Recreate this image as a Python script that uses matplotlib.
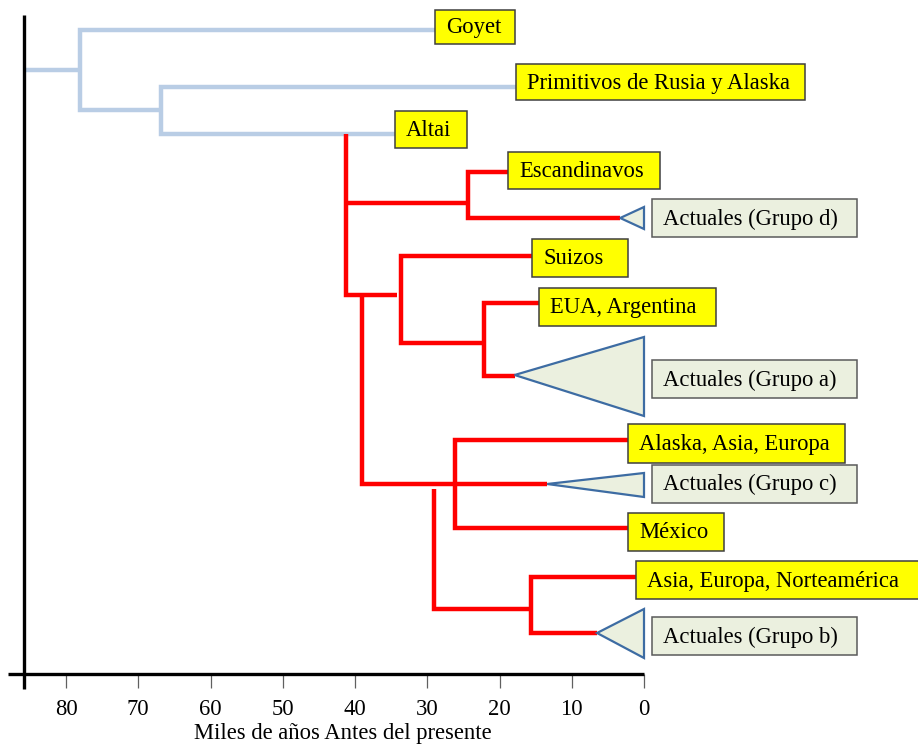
import matplotlib.pyplot as plt
from matplotlib.patches import Polygon, Rectangle

plt.rcParams['font.family'] = ['Liberation Serif', 'DejaVu Serif']

# ages in thousands of years before present, rows counted downwards from the top
# two-way splits: age of the split, row and end age of the upper / lower branch
split_age = [78.1, 66.9, 24.4, 33.6, 22.1, 26.2, 15.6]
upper_row = [30, 87, 172, 256, 303, 440, 577]
lower_row = [110, 134, 218, 343, 376, 528, 633]
upper_end = [28.9, 17.7, 18.8, 15.5, 14.5, 2.2, 1.1]
lower_end = [66.9, 34.5, 3.3, 22.1, 17.9, 2.2, 6.5]
split_lineage = ['old', 'old', 'new', 'new', 'new', 'new', 'new']

# stems leading into a split
stem_row = [70, 203]
stem_from = [85.8, 41.2]
stem_to = [78.1, 24.4]
stem_lineage = ['old', 'new']

# red backbone pieces: run down at one age, then turn towards the present
back_age = [41.2, 39.0, 29.1]
back_top = [134, 295, 489]
back_bot = [295, 484, 609]
back_end = [34.2, 13.4, 15.6]

# ancient samples (yellow boxes)
tip_names = ['Goyet', 'Primitivos de Rusia y Alaska', 'Altai', 'Escandinavos',
             'Suizos', 'EUA, Argentina', 'Alaska, Asia, Europa', 'México',
             'Asia, Europa, Norteamérica']
tip_age = [28.9, 17.7, 34.5, 18.8, 15.5, 14.5, 2.2, 2.2, 1.1]

# modern groups, collapsed into triangles
grp_names = ['Actuales (Grupo d)', 'Actuales (Grupo a)',
             'Actuales (Grupo c)', 'Actuales (Grupo b)']
grp_tip = [3.3, 17.9, 13.4, 6.5]
grp_row = [218, 375, 484, 633]
grp_top = [207, 337, 473, 609]
grp_bot = [229, 416, 497, 658]
grp_base = 0.0

ticks = [80, 70, 60, 50, 40, 30, 20, 10, 0]

# layout (pixels of the 918x744 picture)
PX = 1 / 7.225          # ka per pixel
tip_box_row = [27, 82, 129.5, 170.5, 258, 307, 443.5, 532, 580]
tip_box_w = [80, 289, 72, 152, 96, 177, 217, 96, 292]
tip_box_h = [34, 36, 37, 37, 38, 38, 39, 38, 38]
grp_box_row = [218, 379, 483.5, 636]
grp_box_left = -1.1
grp_box_w = 205
BOX_H = 38

COL = {'old': '#B9CDE5', 'new': '#FF0000'}
TRI_EDGE = '#3D6CA3'
TRI_FILL = '#EBF0DF'
LW = 3.2
FS = 16.3

fig = plt.figure(figsize=(9.18, 7.44), dpi=100)
ax = fig.add_axes([0, 70 / 744, 1, 674 / 744])
ax.set_xlim(644 * PX, (644 - 918) * PX)
ax.set_ylim(674, 0)
for s in ax.spines.values():
    s.set_visible(False)

# tree
for a, r0, r1, e0, e1, lin in zip(split_age, upper_row, lower_row,
                                  upper_end, lower_end, split_lineage):
    ax.plot([e0, a, a, e1], [r0, r0, r1, r1], color=COL[lin], lw=LW,
            solid_joinstyle='miter', solid_capstyle='butt', zorder=2)
for r, a0, a1, lin in zip(stem_row, stem_from, stem_to, stem_lineage):
    ax.plot([a0, a1], [r, r], color=COL[lin], lw=LW,
            solid_capstyle='butt', zorder=2)
for a, r0, r1, e in zip(back_age, back_top, back_bot, back_end):
    ax.plot([a, a, e], [r0, r1, r1], color=COL['new'], lw=LW,
            solid_joinstyle='miter', solid_capstyle='butt', zorder=2)

# collapsed modern groups
for t, r, top, bot in zip(grp_tip, grp_row, grp_top, grp_bot):
    ax.add_patch(Polygon([(t, r), (grp_base, top), (grp_base, bot)],
                         closed=True, facecolor=TRI_FILL, edgecolor=TRI_EDGE,
                         lw=1.6, joinstyle='miter', zorder=3))

# labels
for name, a, r, w, h in zip(tip_names, tip_age, tip_box_row, tip_box_w, tip_box_h):
    ax.add_patch(Rectangle((a, r - h / 2), -w * PX, h, facecolor='#FFFF00',
                           edgecolor='#3F3F3F', lw=1.1, zorder=4, clip_on=False))
    ax.text(a - 11 * PX, r + 1, name, ha='left', va='center', fontsize=FS,
            color='black', zorder=5)
for name, r in zip(grp_names, grp_box_row):
    ax.add_patch(Rectangle((grp_box_left, r - BOX_H / 2), -grp_box_w * PX, BOX_H,
                           facecolor=TRI_FILL, edgecolor='#5A5A5A', lw=1.1,
                           zorder=4))
    ax.text(grp_box_left - 11 * PX, r + 1, name, ha='left', va='center',
            fontsize=FS, color='black', zorder=5)

# axis lines
ax.plot([88.0, 0], [674, 674], color='black', lw=2.4, solid_capstyle='butt',
        clip_on=False, zorder=6)
ax.plot([85.77, 85.77], [15, 689], color='black', lw=2.4,
        solid_capstyle='butt', clip_on=False, zorder=6)

ax.set_xticks(ticks)
ax.set_xticklabels([str(t) for t in ticks])
ax.set_yticks([])
ax.tick_params(axis='x', direction='out', length=10, width=0.9,
               color='#606060', pad=8, labelsize=FS)
fig.text(343 / 918, 1 - 733 / 744, 'Miles de años Antes del presente',
         ha='center', va='center', fontsize=FS)

fig.savefig('out.png', dpi=100)
